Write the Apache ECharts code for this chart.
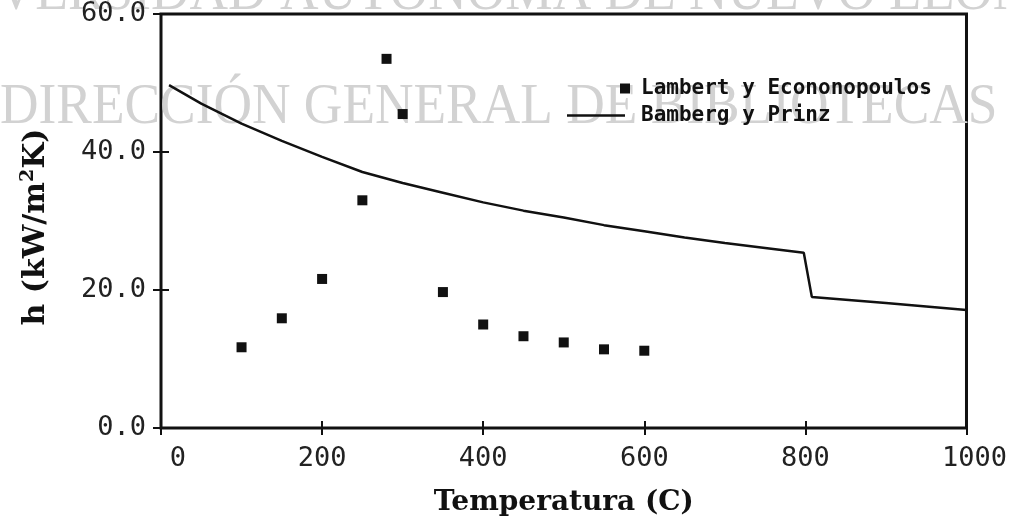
<!DOCTYPE html>
<html>
<head>
<meta charset="utf-8">
<script src="https://cdn.jsdelivr.net/npm/echarts@6/dist/echarts.min.js"></script>
<style>html,body{margin:0;padding:0;background:#fff}#c{width:1010px;height:522px}</style>
</head>
<body>
<div id="c"></div>
<script>
// Lambert y Econonopoulos (scatter)
var lambertT = [100, 150, 200, 250, 280, 300, 350, 400, 450, 500, 550, 600];
var lambertH = [11.7, 15.9, 21.6, 33.0, 53.5, 45.5, 19.7, 15.0, 13.3, 12.4, 11.4, 11.2];
// Bamberg y Prinz (line)
var bambergT = [10, 50, 100, 150, 200, 250, 300, 350, 400, 450, 500, 550, 600, 650, 700, 750, 798, 808, 850, 900, 950, 1000];
var bambergH = [49.7, 47.0, 44.1, 41.6, 39.3, 37.1, 35.5, 34.1, 32.7, 31.5, 30.5, 29.4, 28.5, 27.6, 26.8, 26.1, 25.4, 19.0, 18.6, 18.1, 17.6, 17.1];
var xTicks = [0, 200, 400, 600, 800, 1000];
var yTicks = [0, 20, 40, 60];
var seriesNames = ['Lambert y Econonopoulos', 'Bamberg y Prinz'];
var xName = 'Temperatura (C)';
var watermark1 = 'UNIVERSIDAD AUTÓNOMA DE NUEVO LEÓN';
var watermark2 = 'DIRECCIÓN GENERAL DE BIBLIOTECAS';

var chart = echarts.init(document.getElementById('c'));
var mono = 'DejaVu Sans Mono';
var serif = 'DejaVu Serif';
var ink = '#111';
var wm = '#d2d2d2';

function pairs(xs, ys) { return xs.map(function (x, i) { return [x, ys[i]]; }); }

var option = {
  backgroundColor: '#fff',
  animation: false,
  graphic: [
    { type: 'text', left: -98, top: -35, z: 0, scaleX: 0.92,
      style: { text: watermark1, fill: wm, font: '58px "Liberation Serif"' } },
    { type: 'text', left: 0, top: 79, z: 0, scaleX: 0.92,
      style: { text: watermark2, fill: wm, font: '58px "Liberation Serif"' } }
  ],
  grid: { left: 161, right: 43, top: 14, bottom: 81, show: true, borderColor: ink, borderWidth: 3, backgroundColor: 'transparent' },
  legend: [
    { data: [seriesNames[0]], left: 615, top: 73, orient: 'vertical', itemWidth: 10, itemHeight: 10, icon: 'rect',
      itemStyle: { opacity: 1 },
      textStyle: { fontFamily: mono, fontSize: 21, fontWeight: 'bold', color: ink, padding: [0, 0, 0, 6] } },
    { data: [seriesNames[1]], left: 562, top: 100, orient: 'vertical', itemWidth: 58, itemHeight: 2.5, icon: 'rect',
      textStyle: { fontFamily: mono, fontSize: 21, fontWeight: 'bold', color: ink, padding: [0, 0, 0, 11] } }
  ],
  xAxis: [
    { type: 'value', min: xTicks[0], max: xTicks[xTicks.length - 1], interval: 200,
      name: xName, nameLocation: 'middle', nameGap: 61,
      nameTextStyle: { fontFamily: serif, fontWeight: 'bold', fontSize: 28, color: ink },
      axisLine: { show: false }, splitLine: { show: false },
      axisTick: { show: true, inside: true, length: 7, lineStyle: { color: ink, width: 2 } },
      axisLabel: { margin: 17, color: '#222', fontFamily: mono, fontSize: 27,
        formatter: function (v) { if (v === 0) return '{a|0}'; if (v === 1000) return '{b|1000}'; return String(v); },
        rich: { a: { fontFamily: mono, fontSize: 27, color: '#222', padding: [0, 0, 0, 34] },
                b: { fontFamily: mono, fontSize: 27, color: '#222', padding: [0, 0, 0, 16] } } } },
    { type: 'value', position: 'top', min: xTicks[0], max: xTicks[xTicks.length - 1], interval: 200,
      axisLine: { show: false }, splitLine: { show: false }, axisLabel: { show: false },
      axisTick: { show: true, inside: true, length: 7, lineStyle: { color: ink, width: 2 } } }
  ],
  yAxis: [
    { type: 'value', min: yTicks[0], max: yTicks[yTicks.length - 1], interval: 20,
      name: 'h (kW/m{sup|2}K)', nameLocation: 'middle', nameGap: 108, nameRotate: 90,
      nameTextStyle: { fontFamily: serif, fontWeight: 'bold', fontSize: 30, color: ink, padding: [0, 12, 0, 0],
        rich: { sup: { fontFamily: serif, fontWeight: 'bold', fontSize: 19, color: ink, padding: [0, 0, 15, 0] } } },
      axisLine: { show: false }, splitLine: { show: false },
      axisTick: { show: true, inside: true, length: 8, lineStyle: { color: ink, width: 2 } },
      axisLabel: { margin: 15, color: '#222', fontFamily: mono, fontSize: 27, padding: [11, 0, 0, 0],
        formatter: function (v) { return v.toFixed(1); } } },
    { type: 'value', position: 'right', min: yTicks[0], max: yTicks[yTicks.length - 1], interval: 20,
      axisLine: { show: false }, splitLine: { show: false }, axisLabel: { show: false },
      axisTick: { show: true, inside: true, length: 8, lineStyle: { color: ink, width: 2 } } }
  ],
  series: [
    { name: seriesNames[0], type: 'scatter', symbol: 'rect', symbolSize: 10,
      itemStyle: { color: ink, opacity: 1 }, data: pairs(lambertT, lambertH), z: 3 },
    { name: seriesNames[1], type: 'line', showSymbol: false, symbol: 'none', smooth: false,
      lineStyle: { color: ink, width: 2.5 }, itemStyle: { color: ink }, data: pairs(bambergT, bambergH), z: 3 }
  ]
};
chart.setOption(option);
</script>
</body>
</html>
